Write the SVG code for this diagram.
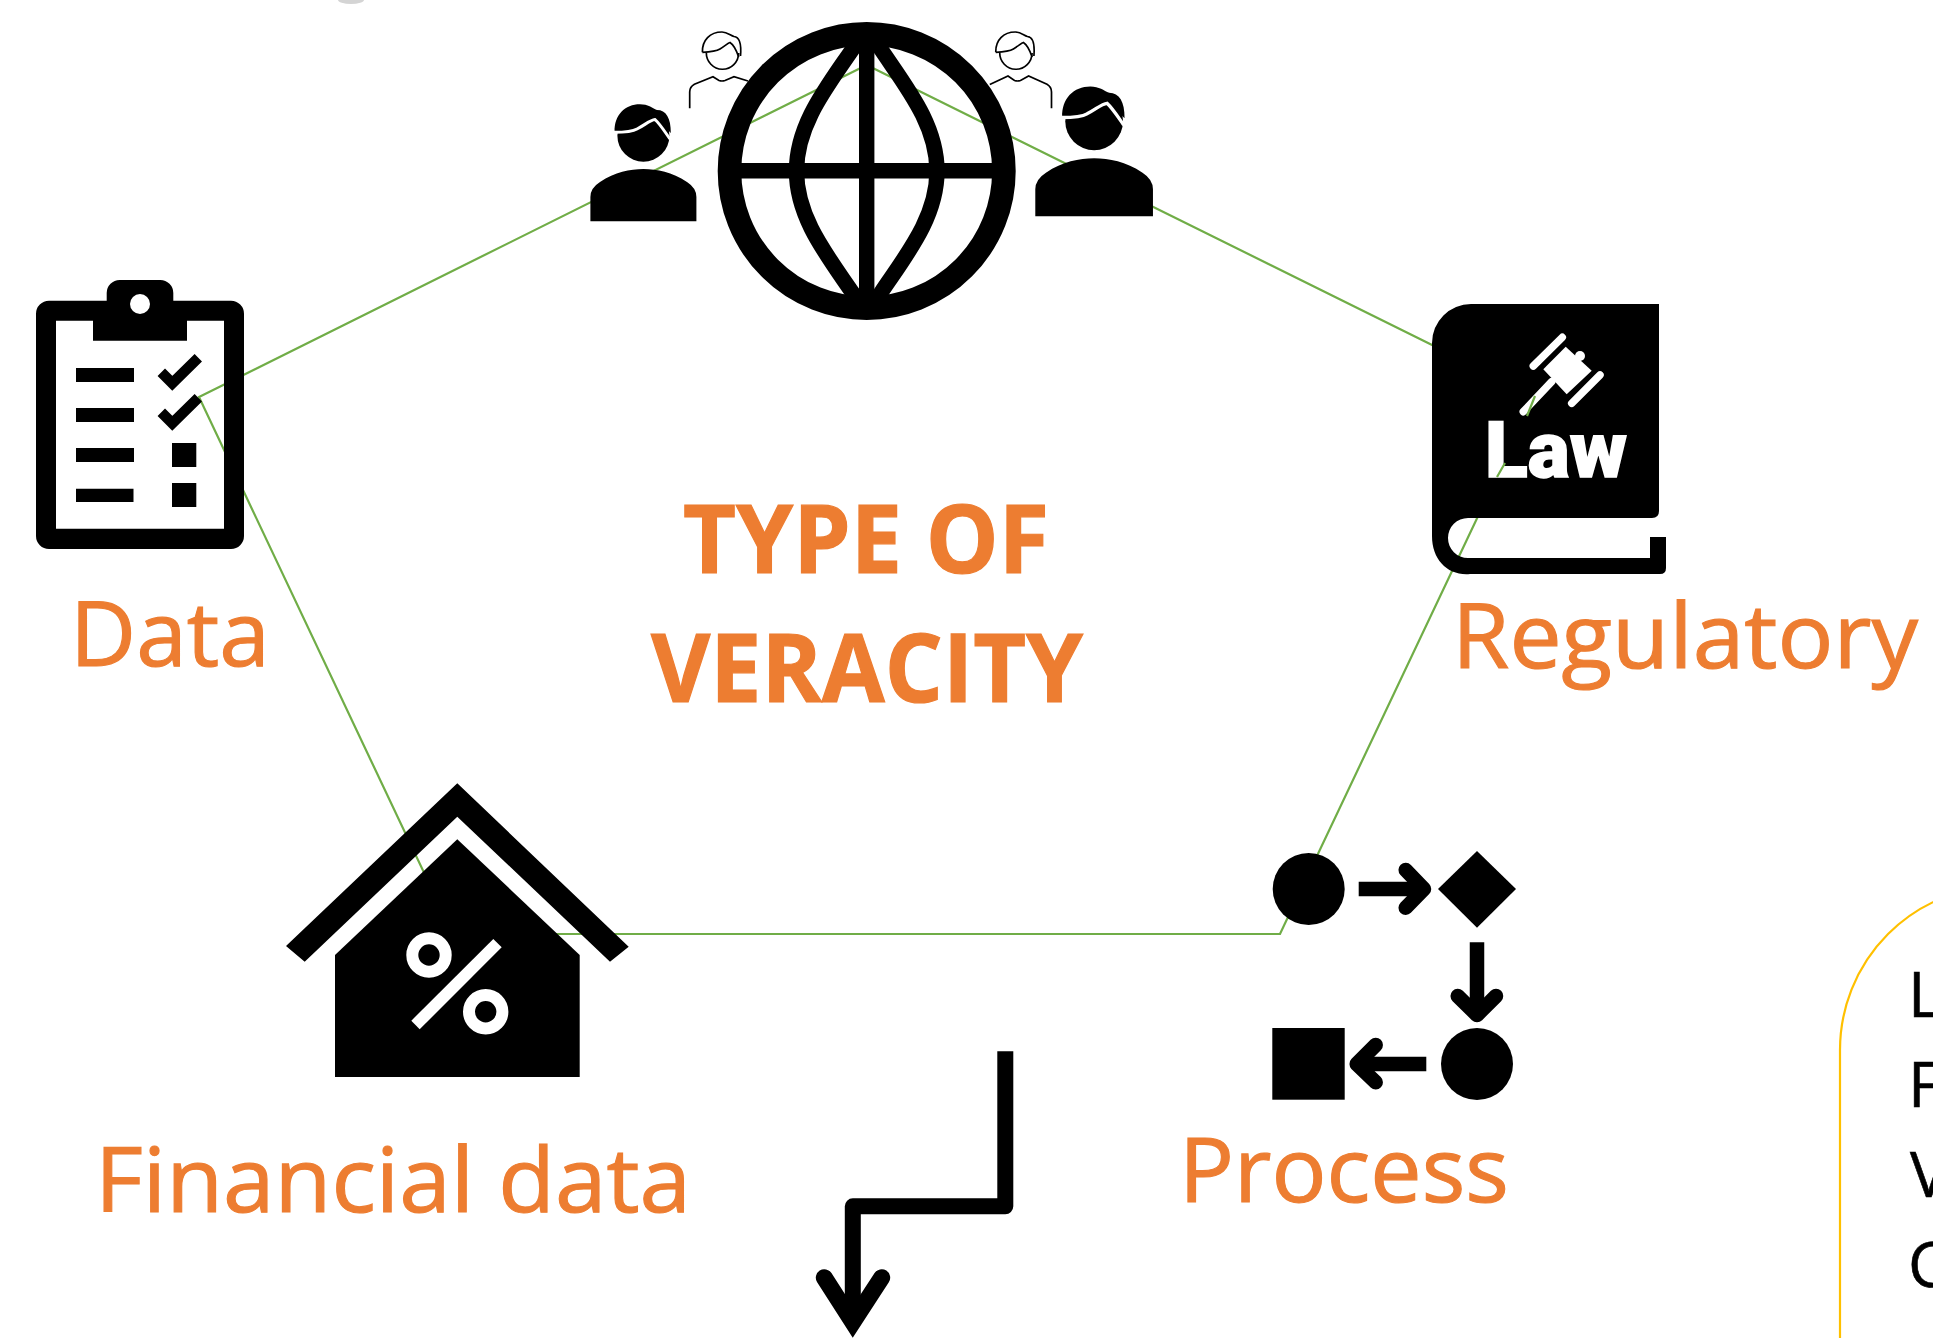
<svg xmlns="http://www.w3.org/2000/svg" width="1933" height="1338" viewBox="0 0 1933 1338">
<style>
.lbl{font-family:"Open Sans","Lato",sans-serif;font-size:90px;fill:#ED7D31;stroke:#ED7D31;stroke-width:1.1}
.ttl{font-family:"Open Sans","Lato",sans-serif;font-size:95px;font-weight:700;fill:#ED7D31;stroke:#ED7D31;stroke-width:1.2}
.box{font-family:"Open Sans","Lato",sans-serif;font-size:63px;fill:#000;stroke:#000;stroke-width:.6}
.k{fill:#000}
.ln{fill:none;stroke:#000;stroke-width:14.5}
.hd{fill:none;stroke:#000;stroke-width:14.5;stroke-linecap:round;stroke-linejoin:round}
.w{fill:none;stroke:#fff}
.g{fill:none;stroke:#70AD47;stroke-width:2.2}
</style>
<defs>
<g id="solid">
<path d="M590.4,221.3V197Q590.4,188 600,182C615,172 630,169 643.4,169C657,169 672,172 687,182Q696.4,188 696.4,197V221.3Z"/>
<circle cx="643.4" cy="135.7" r="26"/>
<path d="M614.6,132C614,115 625,104.3 640,104.3C648,104.3 652,108 657,110C666,110 671,118 670.8,133L656,118L635,130Z"/>
<path d="M614,132.3C625,132.3 632,132 637,129C645,125 650,120 655,119.5C660,124 665,132 670,139" fill="none" stroke="#fff" stroke-width="3"/>
</g>
<g id="outline" fill="none" stroke="#000" stroke-width="1.7">
<path d="M706.3,52.5A16.2,16.5 0 0 0 738.7,53"/>
<path d="M702.4,52.3C702,40 710,32 722,32C727,32 730,35 734,36.5C740,37 741.5,44 740.5,56M702.4,52.3C710,52 716,51.5 720,49C725,46 728,43 730,42.5C734,45 737,52 738.7,57"/>
</g>
</defs>

<ellipse id="smudge" cx="351" cy="0" rx="13" ry="4" fill="#d4d4d4"/>

<g id="connectors">
<polygon id="pentagon" class="g" points="866.7,65 1535,396 1280,934 453,934 199,397"/>
<path id="shaft" d="M1005.3,1051.3V1206.3H852.8V1322" fill="none" stroke="#000" stroke-width="16" stroke-linejoin="round"/>
<path id="shaft-head" d="M824.3,1277.7L852.8,1322L881.7,1277.7" fill="none" stroke="#000" stroke-width="17" stroke-linecap="round" stroke-linejoin="miter" stroke-miterlimit="6"/>
</g>

<g id="node-center">
<text class="ttl" x="683" y="573" textLength="366" lengthAdjust="spacingAndGlyphs">TYPE OF</text>
<text class="ttl" x="651" y="701.5" textLength="432" lengthAdjust="spacingAndGlyphs">VERACITY</text>
</g>

<g id="node-people">
<use href="#solid"/>
<use href="#solid" transform="translate(1035.3 216.3) scale(1.11) translate(-590.4 -221.3)"/>
<use href="#outline"/>
<use href="#outline" transform="translate(293.4 0)"/>
<path d="M689.7,108.3V92Q689.7,87 694.4,84.3L713,76.7L719,80.5Q722,81.5 725,80.5L734,76.7L748,81" fill="none" stroke="#000" stroke-width="1.7"/>
<path d="M989.8,84.5L1008,76L1014.5,80.5Q1017.5,81.5 1020.5,80.5L1028.6,76L1047,84.3Q1051.5,87 1051.5,92V108.3" fill="none" stroke="#000" stroke-width="1.7"/>
</g>

<g id="node-globe">
<circle cx="866.7" cy="171" r="137.2" fill="none" stroke="#000" stroke-width="23.6"/>
<path d="M866.7,30V312M738,170.8H995" fill="none" stroke="#000" stroke-width="15.4"/>
<path d="M862,34L852,50C826,88 796.5,125 796.5,171C796.5,217 826,254 852,292L862,308M871.4,34L881.4,50C907,88 937,125 937,171C937,217 907,254 881.4,292L871.4,308" fill="none" stroke="#000" stroke-width="15.4"/>
</g>

<g id="node-data">
<path class="k" fill-rule="evenodd" d="M49,300.7H106.7V293A13,13 0 0 1 119.7,280H160.3A13,13 0 0 1 173.3,293V300.7H231A13,13 0 0 1 244,313.7V536A13,13 0 0 1 231,549H49A13,13 0 0 1 36,536V313.7A13,13 0 0 1 49,300.7ZM56,320.7V528.7H224V320.7H187V340.7H93V320.7Z"/>
<circle cx="140" cy="304" r="10" fill="#fff"/>
<path class="k" d="M76,368H134V382H76ZM76,408H134V422H76ZM76,448H134V462H76ZM76,488.7H133.5V502H76ZM172,443H196.3V467H172ZM172,483H196.3V507H172Z"/>
<path d="M161.3,372.3L172.3,383.3L198.3,357.7M161.3,412.3L172.3,423.3L198.3,397.7" fill="none" stroke="#000" stroke-width="10.5"/>
<text class="lbl" x="70" y="666" textLength="200" lengthAdjust="spacingAndGlyphs">Data</text>
</g>

<g id="node-regulatory">
<path class="k" d="M1471,304H1659V511Q1659,518 1652,518H1468A20,20 0 0 0 1468,558H1650V537H1666V568Q1666,574 1660,574H1470C1448,576 1432,560 1432,536V343A39,39 0 0 1 1471,304Z"/>
<g class="w" stroke-linecap="round" stroke-width="7.5">
<path d="M1533.3,366L1562.3,337.3M1571.7,403.3L1600,375M1523.3,411.7L1551.7,381.7"/>
</g>
<path d="M1565.7,346.7L1591.7,370.7L1566.7,394.3L1543.3,369.3Z" fill="#fff"/>
<circle cx="1580" cy="356" r="5" fill="#fff"/>
<text x="1485" y="477" textLength="142" lengthAdjust="spacingAndGlyphs" style="font-family:'Roboto','Liberation Sans',sans-serif;font-weight:900;font-size:77px;fill:#fff;stroke:#fff;stroke-width:1.5">Law</text>
<path class="g" d="M1535,396L1527,416M1505,463L1497,477"/>
<text class="lbl" x="1452" y="668" textLength="466" lengthAdjust="spacingAndGlyphs">Regulatory</text>
</g>

<g id="node-financial">
<path class="k" d="M457.3,783.3L628.7,946.7L610,961.7L457.3,816.7L304.7,961.7L286,946Z"/>
<path class="k" d="M457.3,839.3L579.7,955V1077H335V955Z"/>
<circle cx="429" cy="955" r="16.7" fill="none" stroke="#fff" stroke-width="12"/>
<circle cx="485.7" cy="1011.7" r="16.7" fill="none" stroke="#fff" stroke-width="12"/>
<path d="M493.3,939L501.7,947.3L419.7,1029.3L411.3,1020.7Z" fill="#fff"/>
<text class="lbl" x="95" y="1212" textLength="596" lengthAdjust="spacingAndGlyphs">Financial data</text>
</g>

<g id="node-process">
<circle class="k" cx="1308.7" cy="889" r="36"/>
<path class="ln" d="M1358.7,889H1424"/>
<path class="hd" d="M1405.7,870L1424,889L1405.7,907.7"/>
<path class="k" d="M1438,889L1477,851L1516,889L1477,927.7Z"/>
<path class="ln" d="M1477,942.3V1015"/>
<path class="hd" d="M1457.7,996L1477,1015L1496,996"/>
<circle class="k" cx="1477" cy="1064" r="36"/>
<path class="ln" d="M1426.3,1064H1356.7"/>
<path class="hd" d="M1375.7,1045L1356.7,1064L1375.7,1082.3"/>
<rect class="k" x="1272.3" y="1028" width="72.4" height="71.7"/>
<text class="lbl" x="1179" y="1202" textLength="330" lengthAdjust="spacingAndGlyphs">Process</text>
</g>

<g id="node-box">
<path d="M1840,1338V1050A164,164 0 0 1 2004,886" fill="none" stroke="#FFC000" stroke-width="2.2"/>
<text class="box" x="1908" y="1016.7">L</text>
<text class="box" x="1908" y="1107">F</text>
<text class="box" x="1910" y="1197">V</text>
<text class="box" x="1908" y="1287">C</text>
</g>
</svg>
